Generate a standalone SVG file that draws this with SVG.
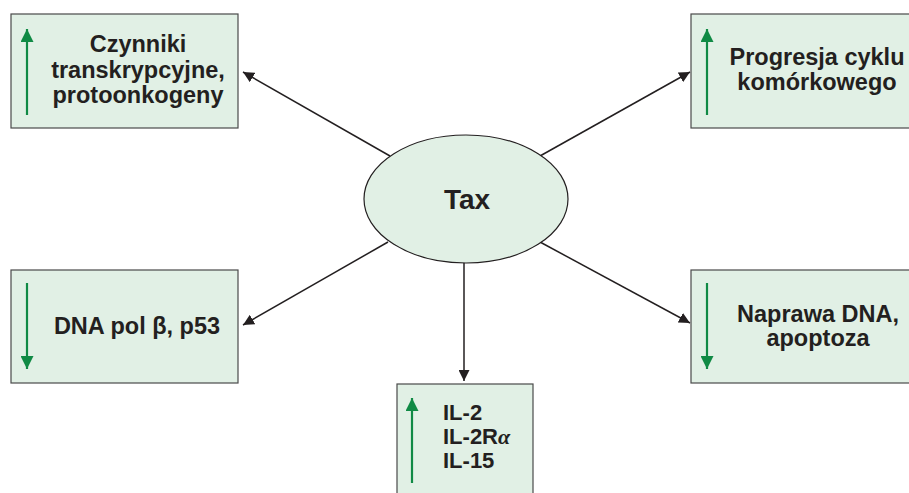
<svg xmlns="http://www.w3.org/2000/svg" width="909" height="493" viewBox="0 0 909 493">
<style>
.box{fill:#e1f0e5;stroke:#4a4a4a;stroke-width:1.2}
.t{font-family:"Liberation Sans",Arial,sans-serif;font-weight:bold;font-size:23.5px;fill:#231f20}
.s{font-size:22px}
.c{text-anchor:middle}
.g{stroke:#108a45;stroke-width:2.2;fill:none}
.con{stroke:#231f20;stroke-width:1.5;fill:none;marker-end:url(#ah)}
</style>
<defs>
<marker id="ah" viewBox="0 0 10 10" refX="10" refY="5" markerWidth="11" markerHeight="11" markerUnits="userSpaceOnUse" orient="auto"><path d="M0,0 L10,5 L0,10 z" fill="#231f20"/></marker>
<marker id="gh" viewBox="0 0 10 10" refX="10" refY="5" markerWidth="13" markerHeight="13" markerUnits="userSpaceOnUse" orient="auto"><path d="M0,0 L10,5 L0,10 z" fill="#108a45"/></marker>
</defs>
<rect width="909" height="493" fill="#fff"/>
<g id="connectors">
<line class="con" x1="390" y1="156" x2="243" y2="72"/>
<line class="con" x1="540" y1="156" x2="690" y2="72"/>
<line class="con" x1="388" y1="242" x2="243" y2="325"/>
<line class="con" x1="540" y1="242" x2="690" y2="323"/>
<line class="con" x1="464" y1="262" x2="464" y2="381"/>
</g>
<g id="tax">
<ellipse cx="466" cy="199" rx="102" ry="64" fill="#e1f0e5" stroke="#231f20" stroke-width="1.2"/>
<text class="t c" x="467" y="209" style="font-size:28px">Tax</text>
</g>
<g id="n1">
<rect class="box" x="11" y="14" width="227" height="114"/>
<line class="g" x1="27" y1="115" x2="27" y2="29" marker-end="url(#gh)"/>
<text class="t c" x="138" y="52">Czynniki</text>
<text class="t c" x="138" y="78">transkrypcyjne,</text>
<text class="t c" x="138" y="103">protoonkogeny</text>
</g>
<g id="n2">
<rect class="box" x="691" y="14" width="230" height="114"/>
<line class="g" x1="707" y1="115" x2="707" y2="29" marker-end="url(#gh)"/>
<text class="t c" x="817" y="65">Progresja cyklu</text>
<text class="t c" x="817" y="90">komórkowego</text>
</g>
<g id="n3">
<rect class="box" x="11" y="270" width="227" height="113"/>
<line class="g" x1="27" y1="283" x2="27" y2="369" marker-end="url(#gh)"/>
<text class="t c" x="137" y="334">DNA pol β, p53</text>
</g>
<g id="n4">
<rect class="box" x="691" y="270" width="230" height="113"/>
<line class="g" x1="707" y1="283" x2="707" y2="369" marker-end="url(#gh)"/>
<text class="t c" x="818" y="322">Naprawa DNA,</text>
<text class="t c" x="818" y="346">apoptoza</text>
</g>
<g id="n5">
<rect class="box" x="397" y="384" width="136" height="120"/>
<line class="g" x1="412" y1="483" x2="412" y2="398" marker-end="url(#gh)"/>
<text class="t s" x="443" y="420">IL-2</text>
<text class="t s" x="443" y="444">IL-2R<tspan font-family="'Liberation Serif',serif" font-style="italic">α</tspan></text>
<text class="t s" x="443" y="468">IL-15</text>
</g>
</svg>
